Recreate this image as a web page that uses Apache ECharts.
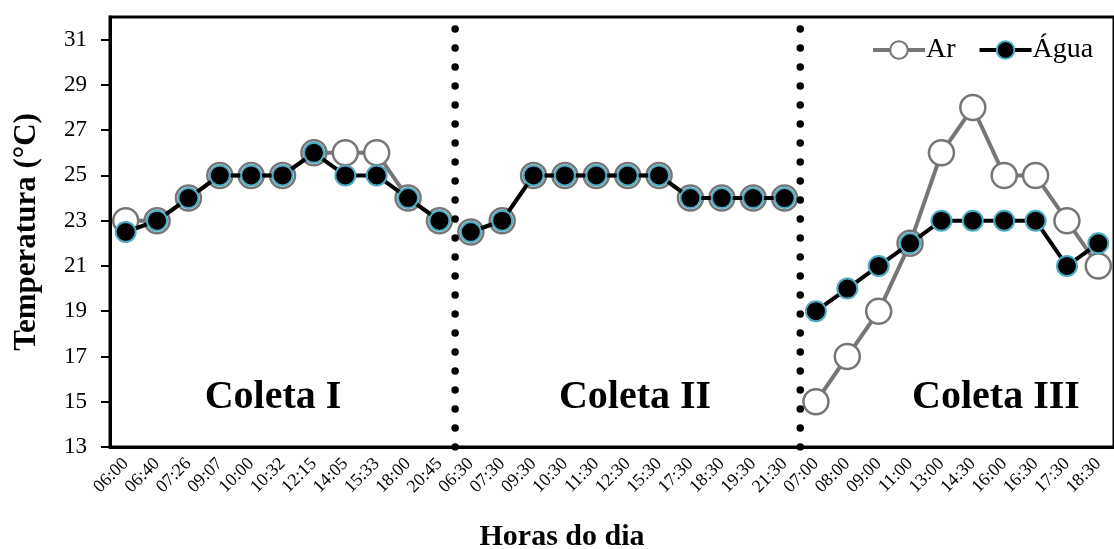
<!DOCTYPE html>
<html>
<head>
<meta charset="utf-8">
<script src="https://cdn.jsdelivr.net/npm/echarts@6/dist/echarts.min.js"></script>
<style>html,body{margin:0;padding:0;background:#fff;}#c{width:1114px;height:549px;}</style>
</head>
<body>
<div id="c"></div>
<script>
const catI   = ['06:00','06:40','07:26','09:07','10:00','10:32','12:15','14:05','15:33','18:00','20:45'];
const catII  = ['06:30','07:30','09:30','10:30','11:30','12:30','15:30','17:30','18:30','19:30','21:30'];
const catIII = ['07:00','08:00','09:00','11:00','13:00','14:30','16:00','16:30','17:30','18:30'];

const arI    = [23, 23, 24, 25, 25, 25, 26, 26, 26, 24, 23];
const aguaI  = [22.5, 23, 24, 25, 25, 25, 26, 25, 25, 24, 23];
const arII   = [22.5, 23, 25, 25, 25, 25, 25, 24, 24, 24, 24];
const aguaII = [22.5, 23, 25, 25, 25, 25, 25, 24, 24, 24, 24];
const arIII  = [15, 17, 19, 22, 26, 28, 25, 25, 23, 21];
const aguaIII= [19, 20, 21, 22, 23, 23, 23, 23, 21, 22];

const yTicks = [13, 15, 17, 19, 21, 23, 25, 27, 29, 31];
const groupNames = ['Coleta I', 'Coleta II', 'Coleta III'];

const categories = catI.concat(catII, catIII);
const N = categories.length;
const boundaries = [catI.length, catI.length + catII.length];

function pad(arr, offset) {
  const out = new Array(N).fill('-');
  arr.forEach((v, i) => { out[offset + i] = v; });
  return out;
}
const offsets = [0, catI.length, catI.length + catII.length];

const SERIF = '"Liberation Serif", "Times New Roman", serif';
const arStyle = {
  type: 'line', name: 'Ar', symbol: 'circle', symbolSize: 25,
  itemStyle: { color: '#ffffff', borderColor: '#767676', borderWidth: 2.5 },
  lineStyle: { color: '#767676', width: 4 }, z: 2
};
const aguaStyle = {
  type: 'line', name: 'Água', symbol: 'circle', symbolSize: 20,
  itemStyle: { color: '#000000', borderColor: '#4bacc6', borderWidth: 2 },
  lineStyle: { color: '#000000', width: 4 }, z: 3
};

const series = [];
[arI, arII, arIII].forEach((a, k) => series.push(Object.assign({}, arStyle, { data: pad(a, offsets[k]) })));
[aguaI, aguaII, aguaIII].forEach((a, k) => series.push(Object.assign({}, aguaStyle, { data: pad(a, offsets[k]) })));
boundaries.forEach(b => series.push({
  type: 'line', xAxisIndex: 1, symbol: 'none', silent: true, z: 5,
  data: [[b, 13], [b, 32]],
  lineStyle: { color: '#000', width: 7.5, type: [0, 19], cap: 'round' }
}));

const gridLeft = 110, gridRightPx = 1127, gridTop = 17, gridBottomPx = 447;
const labelX = [273, 635, 996];
const graphics = groupNames.map((t, k) => ({
  type: 'text', x: labelX[k], y: 398,
  style: { text: t, font: 'bold 40px ' + SERIF, fill: '#000', textAlign: 'center', textVerticalAlign: 'middle' }
}));
graphics.push({
  type: 'text', x: 562, y: 537,
  style: { text: 'Horas do dia', font: 'bold 30px ' + SERIF, fill: '#000', textAlign: 'center', textVerticalAlign: 'middle' }
});

const chart = echarts.init(document.getElementById('c'), null, { renderer: 'canvas' });
chart.setOption({
  animation: false,
  backgroundColor: '#fff',
  grid: { left: gridLeft, top: gridTop, right: 1114 - gridRightPx, bottom: 549 - gridBottomPx,
          show: true, borderColor: '#000', borderWidth: 3, backgroundColor: 'transparent' },
  legend: {
    data: ['Ar', 'Água'], left: 866, top: 31, itemWidth: 52, itemHeight: 22, itemGap: 22,
    lineStyle: { width: 4 },
    textStyle: { fontFamily: SERIF, fontSize: 28, color: '#000', padding: [0, 0, 0, -4] }
  },
  xAxis: [{
    type: 'category', data: categories, boundaryGap: true,
    axisLine: { lineStyle: { color: '#000', width: 3 } },
    axisTick: { alignWithLabel: true, interval: 0, length: 7, lineStyle: { color: '#000', width: 2 } },
    axisLabel: { interval: 0, rotate: 45, fontFamily: SERIF, fontSize: 18, color: '#000', margin: 14 },
    splitLine: { show: false }
  }, {
    type: 'value', min: 0, max: N, show: false
  }],
  yAxis: {
    type: 'value', min: 13, max: 32,
    name: 'Temperatura (°C)', nameLocation: 'middle', nameGap: 68, nameRotate: 90,
    nameTextStyle: { fontFamily: SERIF, fontSize: 31, fontWeight: 'bold', color: '#000' },
    axisLine: { show: true, lineStyle: { color: '#000', width: 3 } },
    axisTick: { show: true, length: 9, customValues: yTicks, lineStyle: { color: '#000', width: 2 } },
    axisLabel: { customValues: yTicks, fontFamily: SERIF, fontSize: 23, color: '#000', margin: 23 },
    splitLine: { show: false }
  },
  graphic: graphics,
  series: series
});
</script>
</body>
</html>
